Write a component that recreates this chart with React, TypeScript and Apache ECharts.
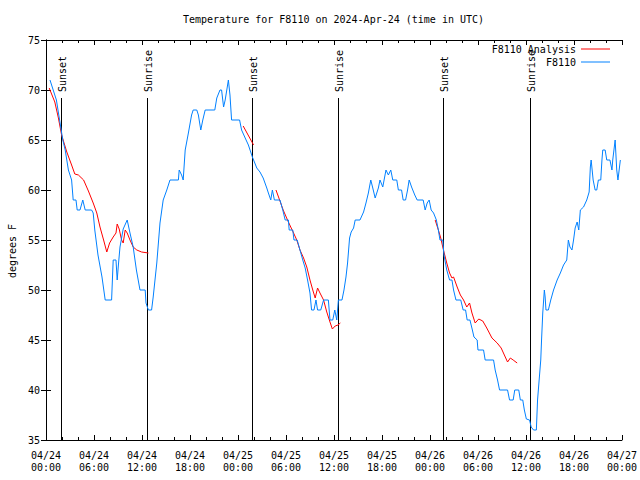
import React, { useEffect, useRef } from "react";
import * as echarts from "echarts";

const FONT = "DejaVu Sans Mono";

// Hours since 2024-04-24 00:00 UTC
const obsHours = [
  0.5, 0.9, 1.3, 1.7, 1.8, 2.1, 2.4, 2.8, 3.2, 3.3, 3.4, 3.75, 3.9, 4.25, 4.6, 4.9, 5.7, 5.9, 6.1, 6.5,
  7.0, 7.4, 8.2, 8.4, 8.75, 8.9, 9.05, 9.25, 9.65, 10.15, 10.5, 10.9, 11.3, 11.75, 12.4, 12.5, 12.8, 13.2, 13.4, 13.85,
  14.25, 14.65, 15.1, 15.5, 16.55, 16.65, 16.95, 17.15, 17.4, 17.8, 18.2, 18.4, 18.85, 19.05, 19.35, 19.6, 19.9, 21.1, 21.35, 21.75,
  21.95, 22.2, 22.4, 22.6, 22.8, 23.0, 23.2, 24.2, 24.45, 24.9, 25.3, 25.8, 26.35, 26.75, 27.15, 27.6, 27.8, 28.1, 28.3, 28.55,
  29.25, 29.6, 29.9, 30.3, 30.4, 30.85, 31.0, 31.4, 31.75, 32.1, 32.4, 32.7, 33.0, 33.2, 33.5, 33.75, 33.95, 34.35, 34.7, 35.3,
  35.5, 35.85, 36.1, 36.35, 36.55, 37.0, 37.25, 37.5, 37.7, 37.95, 38.15, 38.45, 38.65, 39.25, 39.7, 40.0, 40.3, 40.6, 40.85, 41.15,
  41.55, 41.75, 42.1, 42.5, 42.8, 43.1, 43.35, 43.85, 44.05, 44.45, 44.65, 44.95, 45.2, 45.4, 45.7, 46.1, 46.4, 47.15, 47.4, 47.65,
  47.9, 48.15, 48.45, 48.8, 49.05, 49.25, 49.6, 49.75, 50.1, 50.45, 50.75, 50.95, 51.25, 51.85, 52.15, 52.45, 52.65, 53.0, 53.3, 53.5,
  53.9, 54.0, 54.7, 54.9, 55.95, 56.15, 56.45, 56.7, 57.7, 57.95, 58.4, 58.6, 59.1, 59.3, 59.6, 59.8, 60.05, 60.45, 60.65, 60.95,
  61.3, 61.45, 61.65, 61.85, 61.95, 62.1, 62.3, 62.4, 62.5, 62.8, 63.1, 63.45, 63.9, 64.3, 64.7, 65.1, 65.3, 65.5, 65.75, 65.95,
  66.15, 66.4, 66.6, 66.8, 67.2, 67.6, 67.9, 68.05, 68.15, 68.4, 68.65, 68.85, 69.05, 69.35, 69.5, 69.6, 69.9, 70.1, 70.5, 70.75,
  70.85, 71.15, 71.35, 71.5, 71.65, 71.8,
];
const obsTemps = [
  71, 70, 69, 67, 66.5, 65, 64, 62, 61, 60, 59, 59, 58, 58, 59, 58, 58, 57.7, 56, 53.5,
  51.3, 49, 49, 53, 53, 51, 52.5, 54.3, 56.1, 57, 55.7, 54.3, 52, 50, 50, 48.7, 48, 48, 49.3, 52.7,
  56.7, 59, 60, 61, 61, 62, 61.5, 61, 64, 65.7, 67.5, 68, 68, 67.5, 66, 67, 68, 68, 69.2, 70,
  70, 68.3, 69, 70, 71, 69.5, 67, 67, 66, 65.2, 64.5, 63.3, 62.2, 61.8, 61.2, 60.2, 59.7, 59, 60, 59,
  59, 58, 57, 57, 56, 56, 55, 55, 54, 53, 52.2, 51, 49.7, 48, 48, 49, 48, 48, 49, 49,
  47, 47, 48, 47, 49, 49, 50, 51.3, 52.7, 55.2, 55.8, 56.2, 57, 57, 57.8, 58.7, 59.7, 61, 60.2, 59.2,
  60.2, 61, 60.3, 62, 61.5, 62, 61, 61, 60, 60, 59, 59, 60, 61, 60.3, 59.5, 59, 59, 58, 58.7,
  59, 58, 57.7, 57, 56, 55, 55, 53.5, 52, 51, 51, 50, 49, 49, 48, 48, 47, 47, 46, 45.3,
  45, 44, 44, 43, 43, 42, 41, 40, 40, 39, 39, 40, 40, 39, 39, 38, 37.1, 37, 36.3, 36,
  36, 39, 41, 43, 45, 47.7, 50, 49.3, 48, 48, 49, 50, 51, 51.7, 52.5, 53, 55, 54.3, 54, 55,
  56.2, 56.8, 56, 58, 58.3, 59, 59.8, 62.3, 63, 61, 60, 60, 61, 61, 63, 64, 64, 63, 63, 62,
  63, 65, 62, 61, 62, 63,
];

// null marks a gap in the analysis
const analysisHours = [
  0.4, 1.1, 1.55, 1.95, 2.6, 3.2, 3.6, 4.05, 4.7, 5.3, 5.9, 6.35, 6.75, 7.2, 7.6, 7.95, 8.4, 8.75, 8.9, 9.15,
  9.45, 9.65, 9.9, 10.15, 10.5, 10.9, 11.35, 11.95, 12.8, null,
  24.65, 25.95, null,
  28.75, 29.25, 29.65, 30.3, 30.95, 31.35, 31.75, 32.2, 32.6, 33.0, 33.35, 33.65, 33.95, 34.25, 34.7, 35.1, 35.5, 35.8, 36.15, 36.5,
  36.8, null,
  48.65, 49.05, 49.35, 49.6, 49.75, 50.1, 50.45, 50.75, 50.95, 51.4, 51.8, 52.2, 52.6, 52.95, 53.25, 53.65, 54.1, 54.6, 55.1, 55.75,
  56.4, 56.9, 57.3, 57.7, 58.05, 58.4, 58.9, null,
  60.77, 60.85,
];
const analysisTemps = [
  70.2, 68.8, 67.2, 65.5, 63.8, 62.5, 61.6, 61.5, 61, 59.9, 58.7, 57.7, 56.3, 55, 53.8, 54.7, 55.3, 55.7, 56.6, 56.1,
  55, 54.7, 56, 55.7, 55, 54.3, 54, 53.8, 53.7, null,
  66.4, 64.5, null,
  60, 58.9, 58, 56.8, 55.7, 55, 54, 53.2, 52.3, 51, 50, 49.2, 50.2, 49.7, 49, 47.8, 46.8, 46.1, 46.4, 46.5,
  46.7, null,
  57, 56, 55.2, 54.3, 53.8, 52.7, 51.7, 51.2, 51.3, 50.3, 49.5, 49, 48.3, 48.7, 47.7, 46.7, 47.1, 46.9, 46.2, 45.2,
  44.7, 44.2, 43.5, 42.8, 43.2, 43, 42.7, null,
  41.7, 41.7,
];

const sunHours = [1.84, 12.59, 25.79, 36.54, 49.66, 60.54];
const sunLabels = ["Sunset", "Sunrise", "Sunset", "Sunrise", "Sunset", "Sunrise"];

const yTickMin = 35;
const yTickMax = 75;

const titleText = "Temperature for F8110 on 2024-Apr-24 (time in UTC)";
const yAxisTitle = "degrees F";
const analysisName = "F8110 Analysis";
const obsName = "F8110";

const RED = "#ff0000";
const BLUE = "#0080ff";

export default function App() {
  const ref = useRef<HTMLDivElement>(null);
  useEffect(() => {
    document.body.style.margin = "0";
    const chart = echarts.init(ref.current!, null, { renderer: "svg" });

    const segs: number[][][] = [];
    let cur: number[][] = [];
    analysisHours.forEach((h, i) => {
      if (h === null || analysisTemps[i] === null) {
        if (cur.length) segs.push(cur);
        cur = [];
      } else {
        cur.push([h as number, analysisTemps[i] as number]);
      }
    });
    if (cur.length) segs.push(cur);

    const textStyle = { fontFamily: FONT, fontSize: 10, color: "#000" };
    const axisCommon = {
      axisLine: { show: true, lineStyle: { color: "#000", width: 1 } },
      splitLine: { show: false },
    };
    const xLabel = (v: number) => {
      const day = 24 + Math.floor(v / 24);
      const hr = v % 24;
      return `04/${day}\n${String(hr).padStart(2, "0")}:00`;
    };

    const series: any[] = [];
    segs.forEach((s) => {
      series.push({
        type: "line",
        name: analysisName,
        data: s,
        showSymbol: false,
        color: RED,
        lineStyle: { color: RED, width: 1 },
        xAxisIndex: 0,
        yAxisIndex: 0,
        z: 3,
      });
    });
    series.push({
      type: "line",
      name: obsName,
      data: obsHours.map((h, i) => [h, obsTemps[i]]),
      showSymbol: false,
      color: BLUE,
      lineStyle: { color: BLUE, width: 1 },
      xAxisIndex: 0,
      yAxisIndex: 0,
      z: 4,
    });
    series.push({
      type: "custom",
      name: "sun",
      silent: true,
      xAxisIndex: 0,
      yAxisIndex: 0,
      data: sunHours.map((h) => [h, yTickMin]),
      z: 2,
      renderItem: (params: any, api: any) => {
        const h = api.value(0);
        const bottom = api.coord([h, yTickMin]);
        const top = api.coord([h, yTickMax]);
        const x = Math.round(bottom[0]) + 0.5;
        const labelY = top[1] + 52;
        return {
          type: "group",
          children: [
            {
              type: "line",
              shape: { x1: x, y1: labelY + 6, x2: x, y2: bottom[1] },
              style: { stroke: "#000", lineWidth: 1 },
            },
            {
              type: "text",
              x: x + 1,
              y: labelY,
              rotation: Math.PI / 2,
              style: {
                text: sunLabels[params.dataIndex],
                fill: "#000",
                fontFamily: FONT,
                fontSize: 10,
                align: "left",
                verticalAlign: "middle",
                textAlign: "left",
                textVerticalAlign: "middle",
              },
            },
          ],
        };
      },
    });

    const legendCommon = {
      orient: "vertical",
      align: "right",
      right: 30,
      padding: 0,
      icon: "rect",
      itemWidth: 29,
      itemHeight: 1,
      selectedMode: false,
      textStyle: { ...textStyle },
    };

    chart.setOption({
      animation: false,
      title: {
        text: titleText,
        left: 183,
        top: 14,
        padding: 0,
        textStyle: { fontFamily: FONT, fontSize: 10, fontWeight: "normal", color: "#000" },
      },
      legend: [
        { ...legendCommon, data: [analysisName], top: 44 },
        { ...legendCommon, data: [obsName], top: 57 },
      ],
      grid: { left: 46, right: 18, top: 40, bottom: 40, containLabel: false },
      graphic: [
        {
          type: "text",
          x: 12,
          y: 251,
          rotation: Math.PI / 2,
          style: {
            text: yAxisTitle,
            fill: "#000",
            fontFamily: FONT,
            fontSize: 10,
            align: "center",
            verticalAlign: "middle",
          },
        },
      ],
      xAxis: [
        {
          type: "value",
          position: "bottom",
          min: 0,
          max: 72,
          interval: 6,
          ...axisCommon,
          axisTick: { show: true, inside: true, length: 5, lineStyle: { color: "#000" } },
          minorTick: { show: true, splitNumber: 3, length: 3, lineStyle: { color: "#000" } },
          axisLabel: { ...textStyle, margin: 9, lineHeight: 12, formatter: xLabel },
        },
        {
          type: "value",
          position: "top",
          min: 0,
          max: 72,
          interval: 6,
          ...axisCommon,
          axisTick: { show: true, inside: true, length: 5, lineStyle: { color: "#000" } },
          minorTick: { show: true, splitNumber: 3, length: 3, lineStyle: { color: "#000" } },
          axisLabel: { show: false },
        },
      ],
      yAxis: [
        {
          type: "value",
          position: "left",
          min: yTickMin,
          max: yTickMax,
          interval: 5,
          ...axisCommon,
          axisTick: { show: true, inside: true, length: 5, lineStyle: { color: "#000" } },
          axisLabel: { ...textStyle, margin: 6 },
        },
        {
          type: "value",
          position: "right",
          min: yTickMin,
          max: yTickMax,
          interval: 5,
          ...axisCommon,
          axisTick: { show: true, inside: true, length: 5, lineStyle: { color: "#000" } },
          axisLabel: { show: false },
        },
      ],
      series,
    });
    return () => chart.dispose();
  }, []);
  return <div ref={ref} style={{ width: 640, height: 480 }} />;
}
